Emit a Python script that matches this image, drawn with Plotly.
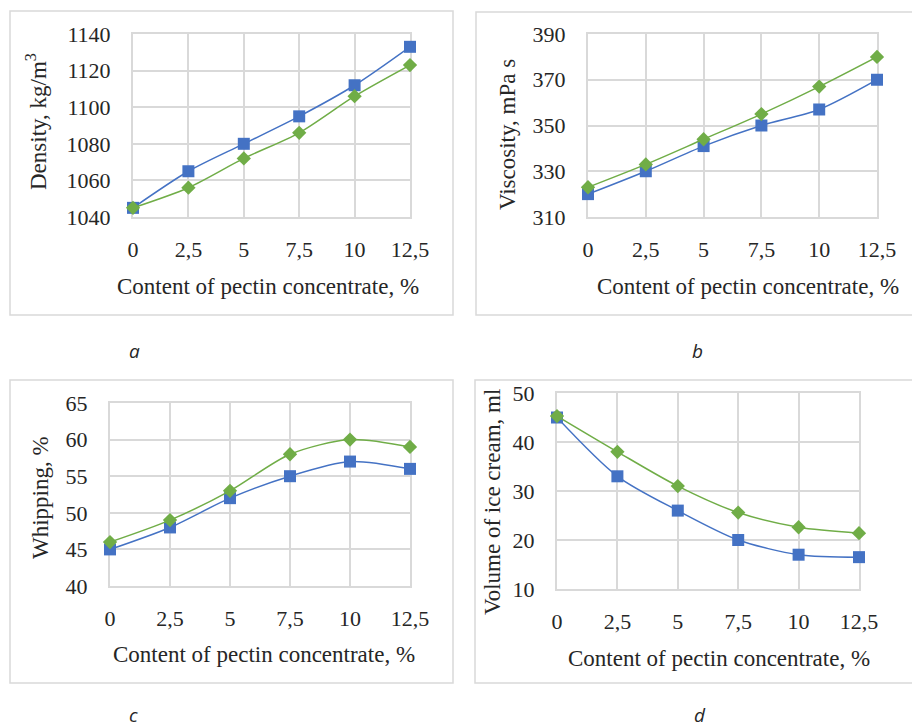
import plotly.graph_objects as go

W, H = 912, 728

x_content = [0, 2.5, 5, 7.5, 10, 12.5]
x_ticktext = ["0", "2,5", "5", "7,5", "10", "12,5"]

density_blue = [1045, 1065, 1080, 1095, 1112, 1133]
density_green = [1045, 1056, 1072, 1086, 1106, 1123]

viscosity_blue = [320, 330, 341, 350, 357, 370]
viscosity_green = [323, 333, 344, 355, 367, 380]

whipping_blue = [45, 48, 52, 55, 57, 56]
whipping_green = [46, 49, 53, 58, 60, 59]

volume_blue = [45, 33, 26, 20, 17, 16.5]
volume_green = [45.3, 38, 31, 25.6, 22.6, 21.4]

BLUE = "#4472C4"
GREEN = "#70AD47"
GRID = "#d9d9d9"
TXT = "#262626"
FONT = "Liberation Serif"

def px_x(p):
    return p / W

def px_y(p):
    return 1 - p / H

panels = [
    dict(key="", plot=(133, 410, 34, 217), yr=(1040, 1140), dt=20, ytitle="Density, kg/m<sup>3</sup>",
         ytpos=(37, 122), xtpos=(268, 287), blue=density_blue, green=density_green,
         box=(10, 453, 11, 315), lab="a", labpos=(134, 351)),
    dict(key="2", plot=(588, 877, 34, 217), yr=(310, 390), dt=20, ytitle="Viscosity, mPa s",
         ytpos=(507, 135), xtpos=(748, 287), blue=viscosity_blue, green=viscosity_green,
         box=(476, 915, 12, 315), lab="b", labpos=(697, 351)),
    dict(key="3", plot=(110, 410, 403, 586), yr=(40, 65), dt=5, ytitle="Whipping, %",
         ytpos=(40, 498), xtpos=(264, 654), blue=whipping_blue, green=whipping_green,
         box=(10, 453, 380, 683), lab="c", labpos=(133, 715)),
    dict(key="4", plot=(557, 859, 393, 589), yr=(10, 50), dt=10, ytitle="Volume of ice cream, ml",
         ytpos=(492, 502), xtpos=(719, 658), blue=volume_blue, green=volume_green,
         box=(475, 915, 380, 683), lab="d", labpos=(700, 715)),
]

fig = go.Figure()
layout = dict(width=W, height=H, margin=dict(l=0, r=0, t=0, b=0, autoexpand=False),
              paper_bgcolor="white", plot_bgcolor="rgba(0,0,0,0)", showlegend=False,
              shapes=[], annotations=[])

for p in panels:
    k = p["key"]
    l, r, t, b = p["plot"]
    xa = "x" + k
    ya = "y" + k
    fig.add_trace(go.Scatter(x=x_content, y=p["blue"], xaxis=xa, yaxis=ya, mode="lines+markers",
                             line=dict(color=BLUE, width=1.5, shape="spline", smoothing=0.8),
                             marker=dict(symbol="square", size=12, color=BLUE),
                             cliponaxis=False))
    fig.add_trace(go.Scatter(x=x_content, y=p["green"], xaxis=xa, yaxis=ya, mode="lines+markers",
                             line=dict(color=GREEN, width=1.5, shape="spline", smoothing=0.8),
                             marker=dict(symbol="diamond", size=11, color=GREEN),
                             cliponaxis=False))
    layout["xaxis" + k] = dict(domain=[px_x(l), px_x(r)], anchor=ya, range=[0, 12.5],
                               tickmode="array", tickvals=x_content, ticktext=x_ticktext,
                               showgrid=True, gridcolor=GRID, gridwidth=1.5,
                               showline=True, linecolor=GRID, linewidth=2, mirror=True,
                               zeroline=False, ticks="", ticklabelstandoff=12, automargin=False,
                               layer="below traces",
                               tickfont=dict(family=FONT, size=22, color=TXT))
    layout["yaxis" + k] = dict(domain=[px_y(b), px_y(t)], anchor=xa, range=list(p["yr"]),
                               dtick=p["dt"], tick0=p["yr"][0],
                               showgrid=True, gridcolor=GRID, gridwidth=1.5,
                               showline=True, linecolor=GRID, linewidth=2, mirror=True,
                               zeroline=False, ticks="", ticklabelstandoff=16, automargin=False,
                               layer="below traces",
                               tickfont=dict(family=FONT, size=22, color=TXT))
    bl, br, bt, bb = p["box"]
    layout["shapes"].append(dict(type="rect", xref="paper", yref="paper",
                                 x0=px_x(bl), x1=px_x(br), y0=px_y(bb), y1=px_y(bt),
                                 fillcolor="rgba(0,0,0,0)",
                                 line=dict(color=GRID, width=1.5), layer="below"))
    layout["annotations"].append(dict(text=p["ytitle"], xref="paper", yref="paper",
                                      x=px_x(p["ytpos"][0]), y=px_y(p["ytpos"][1]),
                                      textangle=-90, showarrow=False, xanchor="center", yanchor="middle",
                                      font=dict(family=FONT, size=23, color=TXT)))
    layout["annotations"].append(dict(text="Content of pectin concentrate, %", xref="paper", yref="paper",
                                      x=px_x(p["xtpos"][0]), y=px_y(p["xtpos"][1]),
                                      showarrow=False, xanchor="center", yanchor="middle",
                                      font=dict(family=FONT, size=23, color=TXT)))
    layout["annotations"].append(dict(text="<i>" + p["lab"] + "</i>", xref="paper", yref="paper",
                                      x=px_x(p["labpos"][0]), y=px_y(p["labpos"][1]),
                                      showarrow=False, xanchor="center", yanchor="middle",
                                      font=dict(family="Open Sans", size=19, color=TXT)))

fig.update_layout(**layout)
fig.write_html("out.html", config={"displayModeBar": False},
               post_script="document.body.style.margin='0';document.body.style.overflow='hidden';")
